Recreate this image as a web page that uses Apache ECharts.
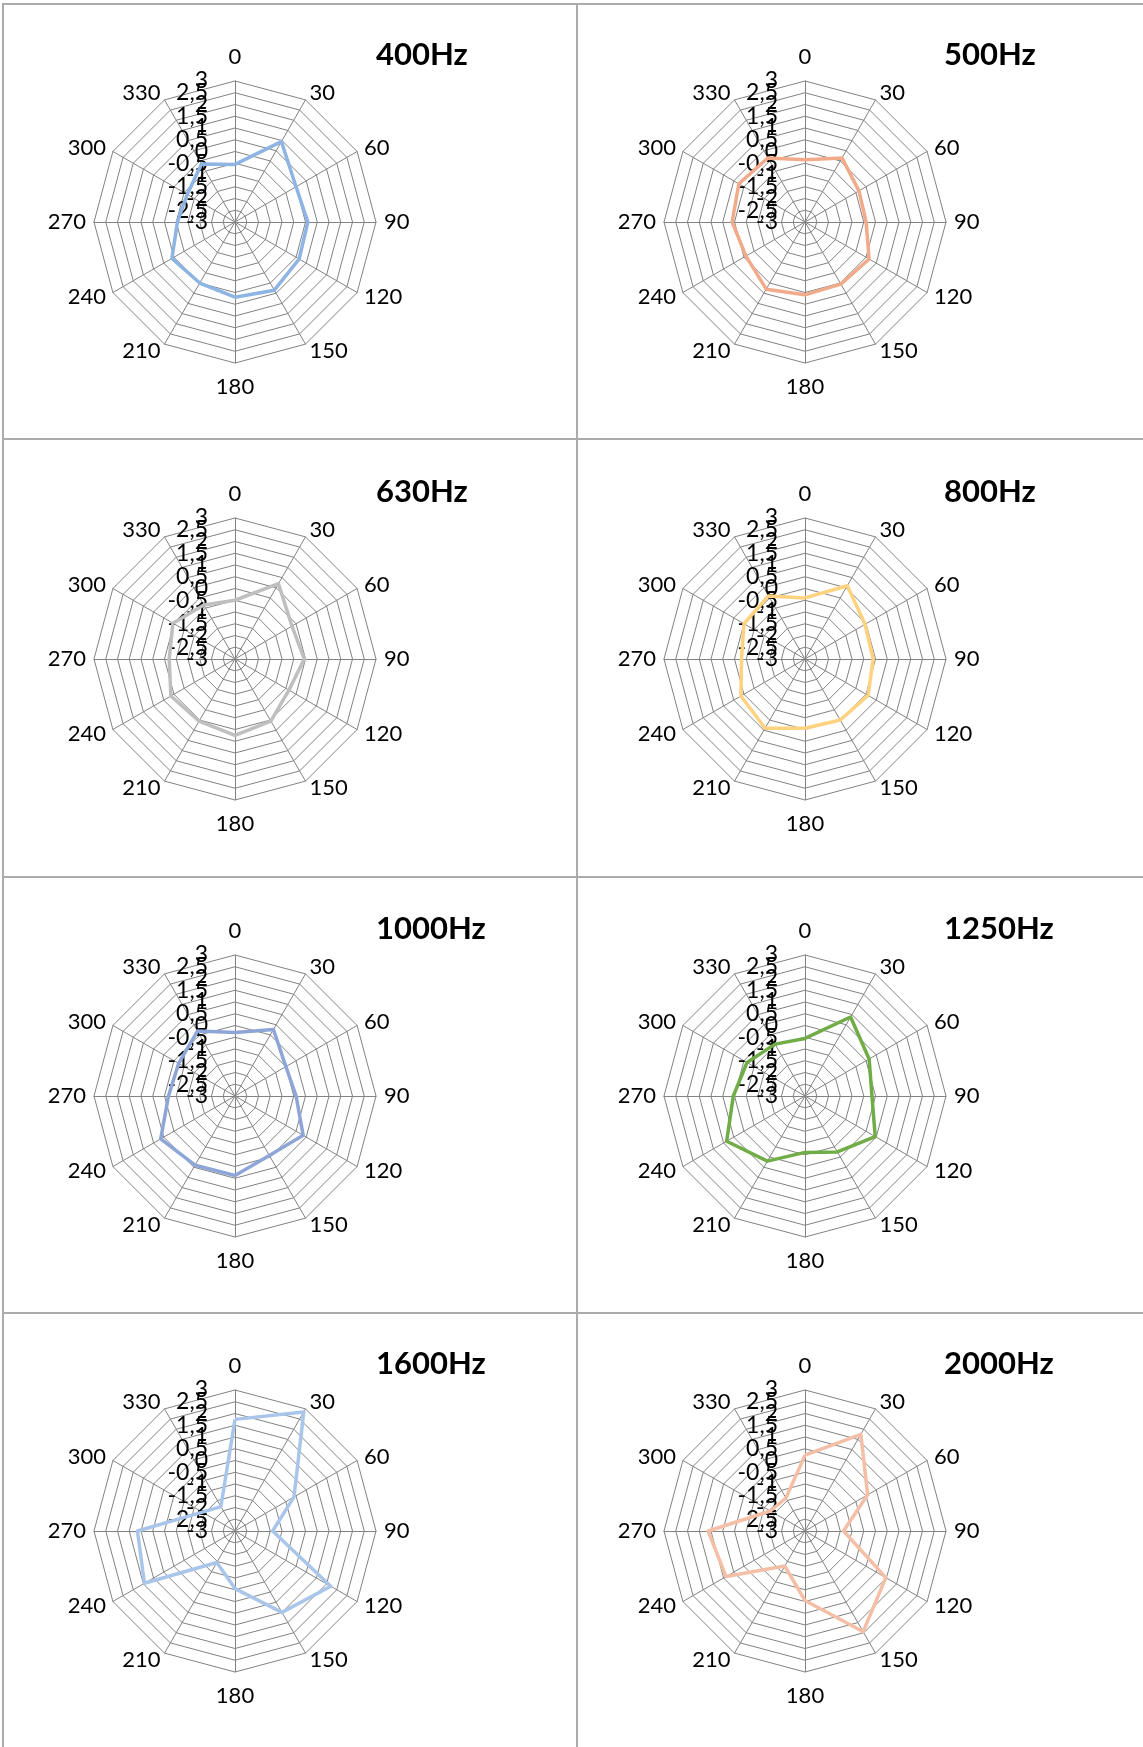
<!DOCTYPE html>
<html>
<head>
<meta charset="utf-8">
<script src="https://cdn.jsdelivr.net/npm/echarts@6/dist/echarts.min.js"></script>
<style>
html, body { margin: 0; padding: 0; background: #fff; }
#wrap { position: relative; width: 1143px; height: 1747px; overflow: hidden; }
#chart { position: absolute; left: 0; top: 0; width: 1143px; height: 1747px; }
.ln { position: absolute; background: #ababab; }
</style>
</head>
<body>
<div id="wrap">
  <div class="ln" style="left:3px;top:3px;width:1140px;height:2px"></div>
  <div class="ln" style="left:3px;top:438px;width:1140px;height:2px"></div>
  <div class="ln" style="left:3px;top:876px;width:1140px;height:2px"></div>
  <div class="ln" style="left:3px;top:1312px;width:1140px;height:2px"></div>
  <div class="ln" style="left:2px;top:3px;width:2px;height:1744px"></div>
  <div class="ln" style="left:576px;top:3px;width:2px;height:1744px"></div>
  <div id="chart"></div>
</div>
<script>
// angles (degrees), clockwise from top like the original sheet
var angles = [0, 30, 60, 90, 120, 150, 180, 210, 240, 270, 300, 330];

// one array per frequency, values at the angles above
var hz400  = [-0.55, 0.95, 0.0, 0.1, 0.15, 0.35, 0.2, 0.0, 0.1, -0.55, -0.65, -0.15];
var hz500  = [-0.35, 0.15, -0.35, -0.4, 0.15, 0.05, 0.1, 0.3, -0.1, 0.1, 0.25, 0.15];
var hz630  = [-0.5, 0.7, -0.2, -0.05, -0.35, 0.05, 0.25, 0.05, 0.15, -0.2, 0.05, -0.35];
var hz800  = [-0.4, 0.6, -0.05, -0.1, 0.1, 0.0, -0.05, 0.4, 0.15, -0.3, 0.0, 0.1];
var hz1000 = [-0.3, 0.27, -0.5, -0.4, 0.35, -0.08, 0.38, 0.4, 0.65, -0.17, -0.23, 0.19];
var hz1250 = [-0.55, 0.88, 0.15, -0.15, 0.45, -0.25, -0.6, 0.2, 0.85, 0.05, -0.15, -0.45];
var hz1600 = [1.75, 2.85, -0.1, -1.4, 1.7, 1.0, -0.55, -1.45, 1.45, 1.15, -1.4, -1.8];
var hz2000 = [0.23, 1.75, 0.08, -1.36, 0.97, 1.95, -0.04, -1.28, 0.88, 1.12, -1.3, -1.38];

var titles = ['400Hz', '500Hz', '630Hz', '800Hz', '1000Hz', '1250Hz', '1600Hz', '2000Hz'];
var seriesData = [hz400, hz500, hz630, hz800, hz1000, hz1250, hz1600, hz2000];
var colors = ['#8eb4e3', '#f2ab8a', '#bfbfbf', '#ffd27f', '#8ea5d8', '#70ad47', '#a9c6ea', '#f4bfa6'];

var axisMin = -3, axisMax = 3, splits = 12;

// panel layout
var colX = [235, 805];
var rowY = [222, 659, 1096, 1531];
var titleX = [376, 944];

// echarts radar runs counter-clockwise, so feed the spokes in reverse order
var order = [0, 11, 10, 9, 8, 7, 6, 5, 4, 3, 2, 1];

// small nudges for some spoke names (excel puts them a bit differently)
var namePad = {
  0: [0, 0, 5, 0],
  30: [18, 0, 0, 0],
  330: [18, 0, 0, 0],
  180: [5, 0, 0, 0]
};

var FONT = 'Lato, "Noto Sans", sans-serif';
var radars = [], extra = [], series = [], titleOpts = [];

function fmt(v) {
  return String(v).replace('.', ',');
}

function labelStyle(o) {
  o.color = '#000';
  o.fontSize = 23;
  o.fontFamily = FONT;
  o.margin = 27;
  return o;
}

titles.forEach(function (t, i) {
  var cx = colX[i % 2], cy = rowY[Math.floor(i / 2)];
  radars.push({
    center: [cx, cy],
    radius: 141,
    startAngle: 90,
    shape: 'polygon',
    splitNumber: splits,
    nameGap: 8,
    axisName: { color: '#000', fontSize: 22, fontFamily: FONT },
    indicator: order.map(function (k) {
      var ind = { name: String(angles[k]), min: axisMin, max: axisMax };
      if (namePad[angles[k]]) {
        ind.nameTextStyle = { padding: namePad[angles[k]] };
      }
      if (k === 0) {
        ind.axisLabel = { show: true };
      }
      return ind;
    }),
    axisLine: { lineStyle: { color: '#828282', width: 1 } },
    splitLine: { lineStyle: { color: '#828282', width: 1 } },
    splitArea: { show: false },
    axisTick: { show: false },
    axisLabel: labelStyle({ show: false, showMinLabel: true, showMaxLabel: true, formatter: fmt })
  });
  // twin radar with no lines: only carries the 2,5 / -2,5 labels that
  // echarts drops next to the forced min/max labels
  extra.push({
    center: [cx, cy],
    radius: 141,
    startAngle: 90,
    shape: 'polygon',
    splitNumber: splits,
    axisName: { show: false },
    indicator: order.map(function (k) {
      var ind = { name: '', min: axisMin, max: axisMax };
      if (k === 0) {
        ind.axisLabel = { show: true };
      }
      return ind;
    }),
    axisLine: { show: false },
    splitLine: { show: false },
    splitArea: { show: false },
    axisTick: { show: false },
    axisLabel: labelStyle({
      show: false, showMinLabel: false, showMaxLabel: false,
      formatter: function (v) { return Math.abs(v) === 2.5 ? fmt(v) : ''; }
    })
  });
  series.push({
    type: 'radar',
    radarIndex: i,
    symbol: 'none',
    lineStyle: { color: colors[i], width: 3.5 },
    data: [{ name: t, value: order.map(function (k) { return seriesData[i][k]; }) }]
  });
  titleOpts.push({
    text: t,
    left: titleX[i % 2],
    top: cy - 183,
    padding: 0,
    textStyle: { fontFamily: FONT, fontSize: 31, fontWeight: 'bold', color: '#000' }
  });
});

var chart = echarts.init(document.getElementById('chart'), null, { renderer: 'canvas' });
chart.setOption({
  animation: false,
  backgroundColor: 'transparent',
  title: titleOpts,
  radar: radars.concat(extra),
  series: series
});
</script>
</body>
</html>
